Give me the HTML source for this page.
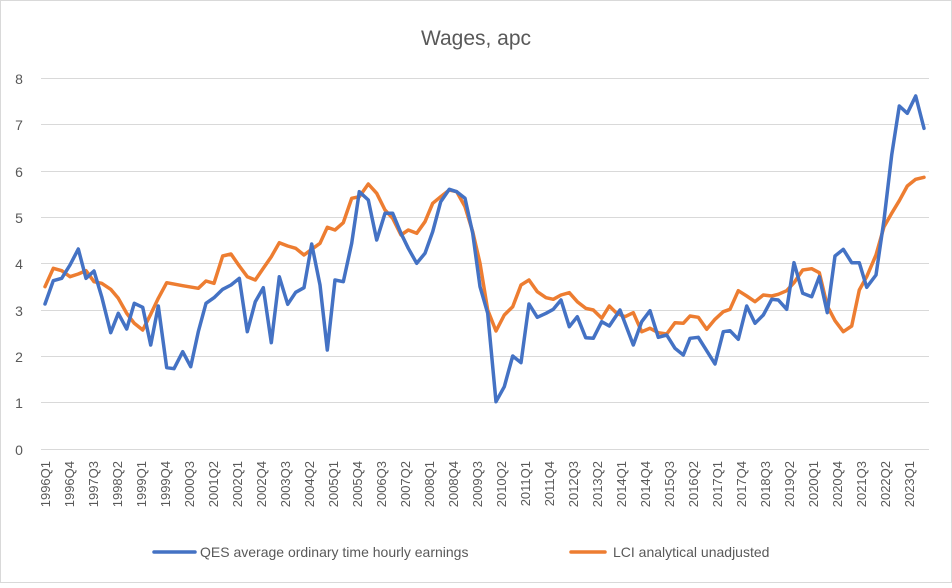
<!DOCTYPE html>
<html><head><meta charset="utf-8"><style>
body{margin:0;background:#fff;}
svg text{font-family:"Liberation Sans",sans-serif;fill:#595959;}
</style></head><body>
<svg width="952" height="583" viewBox="0 0 952 583" xmlns="http://www.w3.org/2000/svg">
<rect x="0" y="0" width="952" height="583" fill="#fff"/>
<rect x="0.5" y="0.5" width="951" height="582" fill="none" stroke="#d9d9d9"/>
<text x="476" y="45" font-size="21" text-anchor="middle">Wages, apc</text>
<g stroke="#d9d9d9" stroke-width="1">
<line x1="41" x2="929" y1="78.5" y2="78.5"/>
<line x1="41" x2="929" y1="124.5" y2="124.5"/>
<line x1="41" x2="929" y1="171.5" y2="171.5"/>
<line x1="41" x2="929" y1="217.5" y2="217.5"/>
<line x1="41" x2="929" y1="263.5" y2="263.5"/>
<line x1="41" x2="929" y1="310.5" y2="310.5"/>
<line x1="41" x2="929" y1="356.5" y2="356.5"/>
<line x1="41" x2="929" y1="402.5" y2="402.5"/>
<line x1="41" x2="929" y1="449.5" y2="449.5"/>
</g>
<g font-size="14" text-anchor="middle">
<text x="19" y="84">8</text><text x="19" y="130">7</text><text x="19" y="177">6</text><text x="19" y="223">5</text>
<text x="19" y="269">4</text><text x="19" y="316">3</text><text x="19" y="362">2</text><text x="19" y="408">1</text><text x="19" y="455">0</text>
</g>
<g font-size="13" text-anchor="end" id="xl"></g>
<polyline fill="none" stroke="#ED7D31" stroke-width="3.5" stroke-linejoin="round" stroke-linecap="round" points="45,286.7 53.3,268.3 61.7,270.7 70,276.7 78.3,274 86,270.7 94,281.7 101.7,283.3 110.7,289.3 118.3,298.3 126.7,313.3 134.3,323.3 142.7,330 150.7,314.3 158.3,298.3 166.7,282.7 182.7,285.7 198.3,288.3 206,281 214,283.3 222.7,256 231,254 239.3,266 247.3,276.7 255.3,280 263.3,268.3 271.3,256.7 279.3,242.7 287.7,246 295.7,248.3 304,255 311.7,249.3 320,243.3 327.3,227.3 335,230 343.3,222.7 351.7,198.3 359.3,196.7 368.3,184 376.7,193.3 385,210 392.7,218.3 401,235 408.3,230 416.7,233.3 425,221.7 432.7,203.3 440.7,196.7 449.3,190 456.7,191.7 465,206.7 472.7,231.7 480,263.3 487.7,310 496,331 504.3,315 512.7,306.7 521,285 529,280 537.3,291.7 546,297.7 553.3,299.3 561,295 569.3,292.7 577.3,301.7 585.7,308.3 593.3,310 601.7,318.3 609.3,306 616.7,313.3 625,316.7 633.3,312.7 641.7,331.7 650,328.3 658.3,332.7 666.7,334 675,322.7 683.3,323.3 690,316 698.3,317.3 706.7,329.3 715,319.3 723.3,311.7 730,309.3 738.3,290.7 746.7,296 755,301.7 763.3,295 771.7,296 778.3,294.3 786.7,290.7 794,282.7 802.7,270 811.7,268.7 819.3,272.7 827.3,306 835,320.7 843.3,331.7 851.7,326 859.3,290 866.7,276.7 876,255 884,226.7 891.7,213.3 899.3,200.7 907.3,186 915.7,179.3 924,177.3"/>
<polyline fill="none" stroke="#4472C4" stroke-width="3.5" stroke-linejoin="round" stroke-linecap="round" points="45,304 53.3,280.7 61.7,278.3 70,265 78.3,249 86,278.3 94,271 101.7,296.7 110.7,332.7 118.3,313.3 126.7,329 134.3,303.3 142.7,307.3 150.7,345 158.3,306 166.7,367.7 174,368.7 182.7,351.7 190.7,366.7 198.3,331.7 206,303.3 214,297.7 222.7,289.3 231,285 239.3,278.3 247.3,331.7 255.3,301.7 263.3,287.7 271.3,342.7 279.3,276.7 287.7,304.3 295.7,292.3 304,287.7 311.7,244 320,285 327.3,350 335,280 343.3,281.7 351.7,243.3 359.3,191.7 368.3,200 376.7,240 385,213.3 392.7,213.3 401,233.3 408.3,248.3 416.7,263.3 425,253.3 432.7,231.7 440.7,201.7 449.3,189.3 456.7,191.7 465,198.3 472.7,233.3 480,286.7 487.7,313.3 496,401.7 504.3,386.7 512.7,356 521,362.7 529,304 537.3,317.3 546,313.3 553.3,309.3 561,300 569.3,326.7 577.3,316.7 585.7,337.7 593.3,338.3 601.7,321.7 609.3,326 616.7,315 620,310 633.3,345 641.7,321.7 650,310.7 658.3,337.3 666.7,335 675,348.3 683.3,355 690,338.3 698.3,337.3 715,364 723.3,331.7 730,330.7 738.3,339.3 746.7,306 755,323.3 763.3,315 771.7,299.3 778.3,300 786.7,309.3 794,262.7 802.7,293.3 811.7,296.7 819.3,276.7 827.3,312.7 835,256 843.3,249.3 851.7,262.7 859.3,262.7 866.7,287.3 876,275 884,220 891.7,155 899.3,106 907.3,113.3 915.7,96 924,128.3"/>
<line x1="154" x2="195" y1="552" y2="552" stroke="#4472C4" stroke-width="3.5" stroke-linecap="round"/>
<text x="200" y="557" font-size="14">QES average ordinary time hourly earnings</text>
<line x1="571" x2="605" y1="552" y2="552" stroke="#ED7D31" stroke-width="3.5" stroke-linecap="round"/>
<text x="613" y="557" font-size="14">LCI analytical unadjusted</text>
<g font-size="13" text-anchor="end">
<text transform="translate(50,461) rotate(-90)">1996Q1</text>
<text transform="translate(74,461) rotate(-90)">1996Q4</text>
<text transform="translate(98,461) rotate(-90)">1997Q3</text>
<text transform="translate(122,461) rotate(-90)">1998Q2</text>
<text transform="translate(146,461) rotate(-90)">1999Q1</text>
<text transform="translate(170,461) rotate(-90)">1999Q4</text>
<text transform="translate(194,461) rotate(-90)">2000Q3</text>
<text transform="translate(218,461) rotate(-90)">2001Q2</text>
<text transform="translate(242,461) rotate(-90)">2002Q1</text>
<text transform="translate(266,461) rotate(-90)">2002Q4</text>
<text transform="translate(290,461) rotate(-90)">2003Q3</text>
<text transform="translate(314,461) rotate(-90)">2004Q2</text>
<text transform="translate(338,461) rotate(-90)">2005Q1</text>
<text transform="translate(362,461) rotate(-90)">2005Q4</text>
<text transform="translate(386,461) rotate(-90)">2006Q3</text>
<text transform="translate(410,461) rotate(-90)">2007Q2</text>
<text transform="translate(434,461) rotate(-90)">2008Q1</text>
<text transform="translate(458,461) rotate(-90)">2008Q4</text>
<text transform="translate(482,461) rotate(-90)">2009Q3</text>
<text transform="translate(506,461) rotate(-90)">2010Q2</text>
<text transform="translate(530,461) rotate(-90)">2011Q1</text>
<text transform="translate(554,461) rotate(-90)">2011Q4</text>
<text transform="translate(578,461) rotate(-90)">2012Q3</text>
<text transform="translate(602,461) rotate(-90)">2013Q2</text>
<text transform="translate(626,461) rotate(-90)">2014Q1</text>
<text transform="translate(650,461) rotate(-90)">2014Q4</text>
<text transform="translate(674,461) rotate(-90)">2015Q3</text>
<text transform="translate(698,461) rotate(-90)">2016Q2</text>
<text transform="translate(722,461) rotate(-90)">2017Q1</text>
<text transform="translate(746,461) rotate(-90)">2017Q4</text>
<text transform="translate(770,461) rotate(-90)">2018Q3</text>
<text transform="translate(794,461) rotate(-90)">2019Q2</text>
<text transform="translate(818,461) rotate(-90)">2020Q1</text>
<text transform="translate(842,461) rotate(-90)">2020Q4</text>
<text transform="translate(866,461) rotate(-90)">2021Q3</text>
<text transform="translate(890,461) rotate(-90)">2022Q2</text>
<text transform="translate(914,461) rotate(-90)">2023Q1</text>
</g>
</svg>
</body></html>
